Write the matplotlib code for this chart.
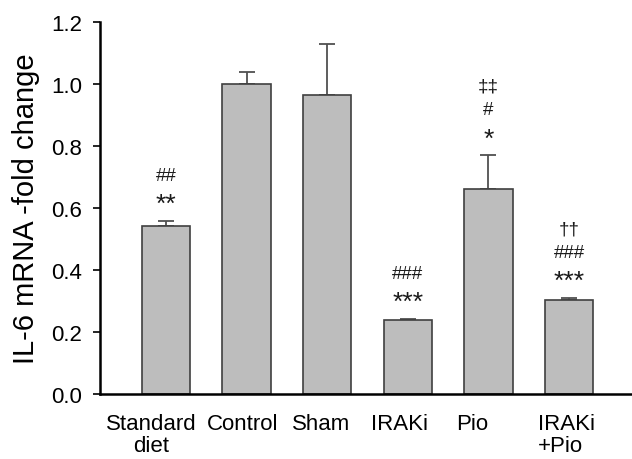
import matplotlib
matplotlib.use("Agg")
import matplotlib.pyplot as plt
import matplotlib.transforms as mtransforms
import numpy as np

plt.rcParams['font.family'] = ['Liberation Sans', 'DejaVu Sans']

categories = ["Standard\ndiet", "Control", "Sham", "IRAKi", "Pio", "IRAKi\n+Pio"]
means = [0.54, 1.00, 0.965, 0.238, 0.661, 0.303]
errors = [0.018, 0.038, 0.162, 0.004, 0.108, 0.006]
# significance annotations (bottom to top)
stars = ["**", "", "", "***", "*", "***"]
hashes = ["##", "", "", "###", "#", "###"]
daggers = ["", "", "", "", "\u2021\u2021", "\u2020\u2020"]
yticks = [0.0, 0.2, 0.4, 0.6, 0.8, 1.0, 1.2]

fig = plt.figure(figsize=(6.32, 4.60), dpi=100)
ax = fig.add_axes([0.158, 0.1413, 0.842, 0.8094])

x = np.arange(len(categories))
ax.bar(x, means, width=0.6, color="#bdbdbd", edgecolor="#404040", linewidth=1.2, zorder=2)
ax.errorbar(x, means, yerr=[np.zeros(len(errors)), errors], fmt="none",
            ecolor="#505050", elinewidth=1.3, capsize=6, capthick=1.3, zorder=1)

ax.set_xlim(-0.82, 5.78)
ax.set_ylim(0, 1.2)
ax.set_yticks(yticks)
ax.set_yticklabels([f"{v:.1f}" for v in yticks], fontsize=16)
ax.set_ylabel("IL-6 mRNA -fold change", fontsize=21, labelpad=8)
ax.spines['top'].set_visible(False)
ax.spines['right'].set_visible(False)
ax.spines['left'].set_linewidth(1.8)
ax.spines['bottom'].set_linewidth(1.8)
ax.tick_params(axis='y', direction='out', length=5, width=1.2, pad=8)
ax.tick_params(axis='x', length=0, pad=14)
ax.set_xticks(x)
ax.set_xticklabels(categories, fontsize=16, linespacing=1.05)

# label offsets in pixels (layout)
offsets = [-15, -4, -6, -8, -16, -31]
for i, lab in enumerate(ax.get_xticklabels()):
    lab.set_transform(lab.get_transform() + mtransforms.ScaledTranslation(offsets[i] / 100, 0, fig.dpi_scale_trans))
    if i == len(categories) - 1:
        lab.set_horizontalalignment('left')
        lab.set_multialignment('left')

# annotations, stacked above each error bar
for i in range(len(categories)):
    top = means[i] + errors[i]
    if stars[i]:
        ax.annotate(stars[i], xy=(i, top), xytext=(0, 10), textcoords='offset pixels',
                    ha='center', va='baseline', fontsize=19, color="#1a1a1a")
    if hashes[i]:
        ax.annotate(hashes[i], xy=(i, top), xytext=(0, 41), textcoords='offset pixels',
                    ha='center', va='baseline', fontsize=13.5, color="#1a1a1a")
    if daggers[i]:
        ax.annotate(daggers[i], xy=(i, top), xytext=(0, 65), textcoords='offset pixels',
                    ha='center', va='baseline', fontsize=13.5, color="#1a1a1a")

fig.savefig("out.png", dpi=100)
